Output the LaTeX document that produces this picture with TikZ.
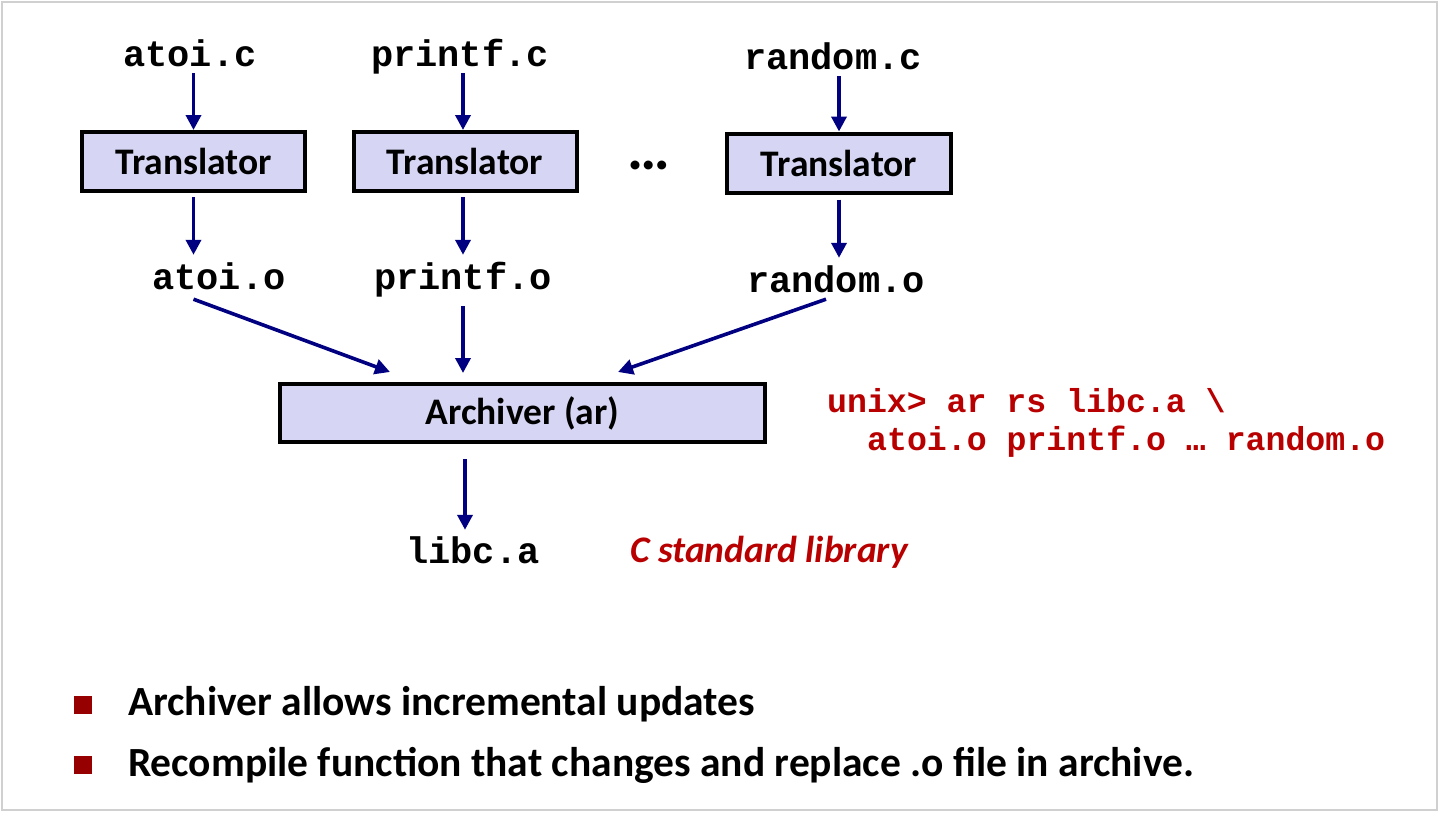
\documentclass[tikz,border=0pt]{standalone}
\usepackage{fontspec}
\setmainfont{Carlito}
\setmonofont{Liberation Mono}
\usetikzlibrary{arrows.meta,calc}
\definecolor{boxfill}{RGB}{214,214,244}
\definecolor{navyarrow}{RGB}{0,0,128}
\definecolor{cmdred}{RGB}{184,0,0}
\definecolor{bulletred}{RGB}{150,0,0}
\definecolor{framegray}{RGB}{208,208,208}
\begin{document}
\begin{tikzpicture}[x=1pt,y=-1pt,
  mono/.style={font=\fontsize{37}{44}\selectfont\ttfamily\bfseries, inner sep=0pt, anchor=base, text height=23pt, text depth=7pt},
  redmono/.style={font=\fontsize{33.2}{40}\selectfont\ttfamily\bfseries, text=cmdred, inner sep=0pt, anchor=base west},
  proc/.style={draw=black, line width=4pt, fill=boxfill, font=\fontsize{37.5}{44}\selectfont\bfseries, inner sep=0pt},
  arr/.style={draw=navyarrow, line width=3.6pt, -{Triangle[length=15pt,width=15pt]}},
  bul/.style={fill=bulletred, minimum size=18pt, inner sep=0pt},
  bultext/.style={font=\fontsize{41.5}{48}\selectfont\bfseries, inner sep=0pt, anchor=base west}]
\useasboundingbox (0,0) rectangle (1440,814);
\draw[framegray, line width=2.5pt] (2,2) rectangle (1437,810);

% sources
\node[mono] (atoic) at (190,66) {atoi.c};
\node[mono] (printfc) at (460,66) {printf.c};
\node[mono] (randomc) at (833,69) {random.c};

% translators
\node[proc, minimum width=223pt, minimum height=59pt] (b1) at (193.5,161.5) {Translator};
\node[proc, minimum width=223pt, minimum height=59pt] (b2) at (465,161.5) {Translator};
\node[proc, minimum width=224pt, minimum height=59pt] (b3) at (839,163) {Translator};
\node[font=\fontsize{60}{66}\selectfont\bfseries, inner sep=0pt] (dots) at (648.5,165) {…};

% objects
\node[mono] (atoio) at (219,289) {atoi.o};
\node[mono] (printfo) at (463,289) {printf.o};
\node[mono] (randomo) at (836,292) {random.o};

% archiver
\node[proc, minimum width=485pt, minimum height=58pt] (arch) at (522.5,413) {Archiver (ar)};
\node[mono] (libca) at (473,563) {libc.a};
\node[font=\fontsize{37.5}{44}\selectfont\bfseries\itshape, text=cmdred, inner sep=0pt, anchor=base west] (clib) at (630,562) {C standard library};

% command
\node[redmono] (cmd1) at (827,412) {unix> ar rs libc.a \textbackslash};
\node[redmono] (cmd2) at (867,450) {atoi.o printf.o … random.o};

% arrows
\draw[arr] (atoic.south -| b1.north) -- (b1.north);
\draw[arr] (printfc.south -| printfo) -- (b2.north -| printfo);
\draw[arr] (randomc.south -| b3.north) -- (b3.north);
\draw[arr, shorten <=4pt, shorten >=11pt] (b1.south) -- (atoio.north -| b1.south);
\draw[arr, shorten <=4pt, shorten >=11pt] (b2.south -| printfo) -- (printfo.north);
\draw[arr, shorten <=5pt, shorten >=11pt] (b3.south) -- (randomo.north -| b3.south);
\draw[arr] ($(atoio.south -| b1)+(0,3)$) -- ($(arch.north)+(-132.5,-10)$);
\draw[arr, shorten <=10pt, shorten >=9pt] (printfo.south) -- (arch.north -| printfo);
\draw[arr] ($(randomo.south)+(-10,0)$) -- ($(arch.north)+(95.5,-10)$);
\draw[arr, shorten <=15pt, shorten >=10pt] (arch.south -| b2) -- (libca.north -| b2);

% bullets
\node[bul] (sq1) at (83,705) {};
\node[bultext] (t1) at (128,715) {Archiver allows incremental updates};
\node[bul] (sq2) at (83,765) {};
\node[bultext] (t2) at (128,776) {Recompile function that changes and replace .o file in archive.};
\end{tikzpicture}
\end{document}
